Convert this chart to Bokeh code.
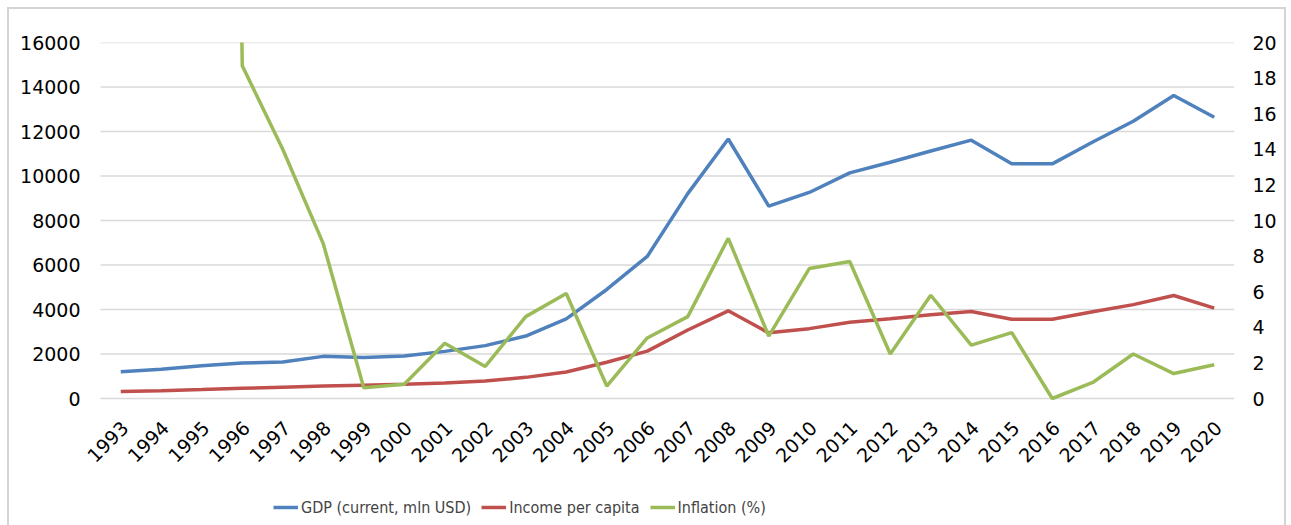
import math
from bokeh.plotting import figure
from bokeh.models import Range1d, LinearAxis, FixedTicker, Legend, LegendItem
from bokeh.core.properties import value
from bokeh.embed import file_html
from bokeh.resources import INLINE

years = list(range(1993, 2021))
year_labels = [str(y) for y in years]
gdp = [1201, 1315, 1468, 1597, 1639, 1894, 1845, 1912, 2118, 2376, 2807, 3577, 4900, 6384,
       9206, 11662, 8648, 9260, 10142, 10619, 11121, 11610, 10553, 10546, 11527, 12458, 13619, 12642]
income = [310, 350, 400, 460, 510, 560, 600, 640, 700, 790, 950, 1190, 1630, 2130,
          3080, 3940, 2950, 3140, 3430, 3580, 3760, 3910, 3560, 3560, 3900, 4220, 4630, 4060]
inflation = [3732, 5273, 176, 18.7, 14.0, 8.7, 0.6, 0.8, 3.1, 1.8, 4.6, 5.9, 0.7, 3.4,
             4.6, 9.0, 3.5, 7.3, 7.7, 2.5, 5.8, 3.0, 3.7, 0.0, 0.9, 2.5, 1.4, 1.9]
left_ticks = [0, 2000, 4000, 6000, 8000, 10000, 12000, 14000, 16000]
right_ticks = [0, 2, 4, 6, 8, 10, 12, 14, 16, 18, 20]

FONT = "DejaVu Sans"
LEG_FONT = "DejaVu Sans Condensed"
BLUE, RED, GREEN = "#4F81BD", "#C0504D", "#9BBB59"
GRID = "#D9D9D9"

# layout (window pixels): content origin at (9, 9) = 7px margin + 2px border
OFF = 9
W, H = 1279, 520
PLOT_L, PLOT_R = 100, 1234        # span of the categories / grid lines
FR_L, FR_T = 80, 42               # frame starts a bit left so rotated labels are not clipped
ZERO_Y = 398                      # pixel row of value 0
AX_PX = ZERO_Y - FR_T
BELOW_PX = (H + OFF) - ZERO_Y

n = len(years)
cat_px = (PLOT_R - PLOT_L) / n
x_start = years[0] - 0.5 - (PLOT_L - FR_L) / cat_px
x_end = years[-1] + 0.5

l_max, r_max = left_ticks[-1], right_ticks[-1]
l_start = -BELOW_PX * l_max / AX_PX
r_start = -BELOW_PX * r_max / AX_PX

p = figure(width=W, height=H, x_range=Range1d(x_start, x_end),
           y_range=Range1d(l_start, l_max), output_backend="svg", toolbar_location=None,
           min_border_left=FR_L - OFF, min_border_right=W - (PLOT_R - OFF),
           min_border_top=FR_T - OFF, min_border_bottom=0,
           margin=(7, 0, 0, 7), styles={"border": "2px solid #D4D4D4"})
p.outline_line_color = None
p.background_fill_color = "white"
p.border_fill_color = "white"
p.extra_y_ranges = {"infl": Range1d(r_start, r_max)}

p.xaxis.visible = False
p.xgrid.grid_line_color = None
p.ygrid.grid_line_color = None

# horizontal grid lines at the left-axis ticks, spanning the category area
p.segment(x0=[years[0] - 0.5] * len(left_ticks), x1=[years[-1] + 0.5] * len(left_ticks),
          y0=left_ticks, y1=left_ticks, line_color=GRID, line_width=1.5)

lax = p.yaxis[0]
lax.ticker = FixedTicker(ticks=left_ticks)
rax = LinearAxis(y_range_name="infl", ticker=FixedTicker(ticks=right_ticks))
p.add_layout(rax, "right")
for ax in [lax, rax]:
    ax.axis_line_color = None
    ax.major_tick_line_color = None
    ax.minor_tick_line_color = None
    ax.major_tick_out = 0
    ax.major_tick_in = 0
    ax.major_label_text_font = FONT
    ax.major_label_text_font_size = "19px"
    ax.major_label_text_color = "#000000"
lax.major_label_standoff = 0
rax.major_label_standoff = 18

# category labels under the zero line, rotated 45 degrees
p.text(x=years, y=[0] * n, text=year_labels, angle=math.pi / 4,
       text_align="right", text_baseline="middle", x_offset=4, y_offset=26,
       text_font=value(FONT), text_font_size="19px", text_color="#000000")

r1 = p.line(years, gdp, line_color=BLUE, line_width=3.5)
r2 = p.line(years, income, line_color=RED, line_width=3.5)
r3 = p.line(years, inflation, line_color=GREEN, line_width=3.5, y_range_name="infl")

legend = Legend(items=[LegendItem(label="GDP (current, mln USD)", renderers=[r1]),
                       LegendItem(label="Income per capita", renderers=[r2]),
                       LegendItem(label="Inflation (%)", renderers=[r3])],
                orientation="horizontal", location=(273 - FR_L, 12),
                label_text_font=LEG_FONT, label_text_font_size="16px",
                glyph_width=25, glyph_height=20, label_standoff=3, spacing=10,
                border_line_color=None, background_fill_alpha=0,
                padding=0, margin=0)
p.add_layout(legend, "center")

open("out.html", "w").write(file_html(p, INLINE))
